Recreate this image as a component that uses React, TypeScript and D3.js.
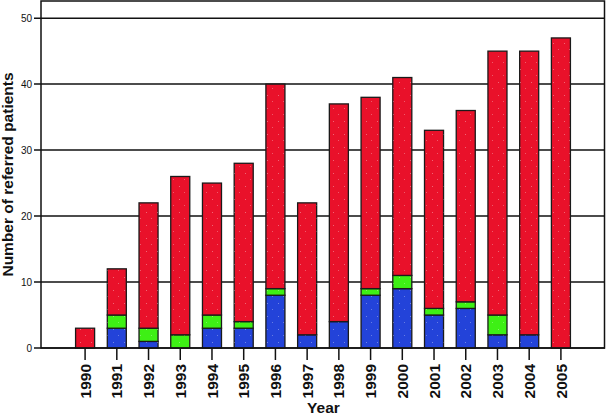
import React from "react";
import * as d3 from "d3";

// values
const years = [
  "1990", "1991", "1992", "1993", "1994", "1995", "1996", "1997",
  "1998", "1999", "2000", "2001", "2002", "2003", "2004", "2005",
];
const blue = [0, 3, 1, 0, 3, 3, 8, 2, 4, 8, 9, 5, 6, 2, 2, 0];
const green = [0, 2, 2, 2, 2, 1, 1, 0, 0, 1, 2, 1, 1, 3, 0, 0];
const red = [3, 7, 19, 24, 20, 24, 31, 20, 33, 29, 30, 27, 29, 40, 43, 47];
const yTicks = [0, 10, 20, 30, 40, 50];

const seriesKeys = ["blue", "green", "red"];
const colors: Record<string, string> = {
  blue: "#2343d9",
  green: "#3ef015",
  red: "#e9112a",
};

const width = 606;
const height = 417;
const margin = { left: 41, right: 1, top: 1, bottom: 69 };

const App = () => {
  const rows = years.map((y, i) => ({
    year: y,
    blue: blue[i],
    green: green[i],
    red: red[i],
  }));

  const x = d3
    .scaleBand()
    .domain(years)
    .range([margin.left, width - margin.right])
    .paddingInner(0.4)
    .paddingOuter(1.09);

  const y = d3
    .scaleLinear()
    .domain([0, 52.6])
    .range([height - margin.bottom, margin.top]);

  const stacked = d3.stack<any>().keys(seriesKeys)(rows);
  const font = "'Liberation Sans', Arial, Helvetica, sans-serif";
  const y0 = y(0);

  return (
    <svg
      width={width}
      height={height}
      style={{ position: "absolute", left: 0, top: 0 }}
      fontFamily={font}
    >
      <defs>
        <pattern id="speckle" width="11" height="13" patternUnits="userSpaceOnUse">
          <rect x="3" y="4" width="1" height="1" fill="#fff" opacity="0.35" />
          <rect x="8" y="10" width="1" height="1" fill="#fff" opacity="0.3" />
        </pattern>
      </defs>
      <rect x={0} y={0} width={width} height={height} fill="#fff" />

      {/* grid lines */}
      {yTicks.map((t) => (
        <g key={t}>
          <line
            x1={margin.left - 7}
            x2={width - margin.right}
            y1={y(t)}
            y2={y(t)}
            stroke="#111"
            strokeWidth={1.5}
          />
          <text
            x={margin.left - 9}
            y={y(t)}
            dy="0.35em"
            textAnchor="end"
            fontSize={10}
            fill="#111"
          >
            {t}
          </text>
        </g>
      ))}

      {/* bars */}
      {stacked.map((s) => (
        <g key={s.key}>
          {s.map((d, i) =>
            d[1] - d[0] > 0 ? (
              <g key={i}>
                <rect
                  x={x(years[i])}
                  y={y(d[1])}
                  width={x.bandwidth()}
                  height={y(d[0]) - y(d[1])}
                  fill={colors[s.key]}
                  stroke="#1a1a1a"
                  strokeWidth={1.3}
                />
                <rect
                  x={x(years[i])}
                  y={y(d[1])}
                  width={x.bandwidth()}
                  height={y(d[0]) - y(d[1])}
                  fill="url(#speckle)"
                />
              </g>
            ) : null
          )}
        </g>
      ))}

      {/* frame */}
      <rect
        x={margin.left}
        y={margin.top}
        width={width - margin.left - margin.right - 0.5}
        height={y0 - margin.top}
        fill="none"
        stroke="#111"
        strokeWidth={1.5}
      />

      {/* x ticks and labels */}
      {years.map((yr) => {
        const cx = (x(yr) as number) + x.bandwidth() / 2;
        return (
          <g key={yr}>
            <line x1={cx} x2={cx} y1={y0} y2={y0 + 12} stroke="#111" strokeWidth={1.5} />
            <text
              transform={`translate(${cx},${y0 + 16}) rotate(-90)`}
              textAnchor="end"
              dy="0.36em"
              fontSize={15.5}
              fontWeight="bold"
              fill="#111"
            >
              {yr}
            </text>
          </g>
        );
      })}

      <text
        x={(margin.left + width) / 2}
        y={413}
        textAnchor="middle"
        fontSize={15.5}
        fontWeight="bold"
        fill="#111"
      >
        Year
      </text>
      <text
        transform={`translate(13,${(margin.top + y0) / 2}) rotate(-90)`}
        textAnchor="middle"
        fontSize={15.5}
        fontWeight="bold"
        fill="#111"
      >
        Number of referred patients
      </text>
    </svg>
  );
};

export default App;
